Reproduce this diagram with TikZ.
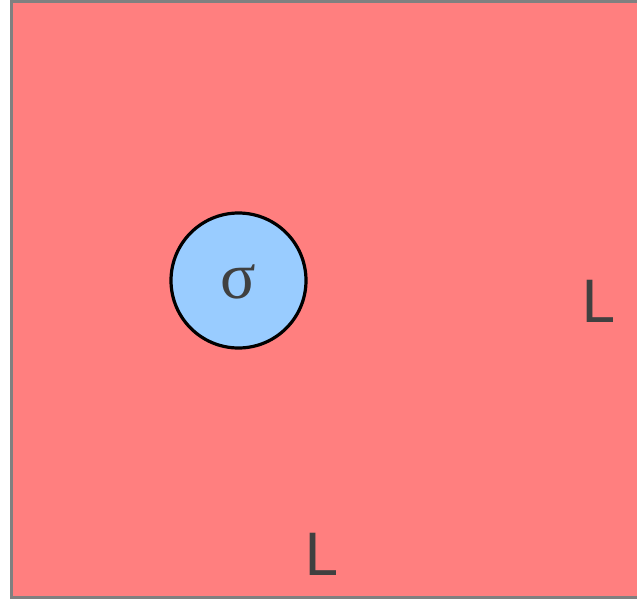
\documentclass[tikz,border=0pt]{standalone}
\usepackage{fontspec}
\setmainfont{DejaVu Sans}
\newfontfamily\sigfont{Liberation Serif}
\definecolor{regionred}{RGB}{255,127,127}
\definecolor{holeblue}{RGB}{153,204,255}
\definecolor{edgegray}{RGB}{128,128,128}
\definecolor{inkgray}{RGB}{64,64,64}
\tikzset{
  region/.style={fill=regionred, draw=edgegray, line width=3.4pt},
  hole/.style={circle, fill=holeblue, draw=black, line width=3.2pt, minimum size=135pt, inner sep=0pt},
  lbl/.style={text=inkgray, inner sep=0pt, anchor=base, font=\fontsize{58}{60}\selectfont},
}
\begin{document}
\begin{tikzpicture}[x=1pt,y=-1pt]
\useasboundingbox (0,0) rectangle (637,599);
\begin{scope}
\clip (0,0) rectangle (637,599);
\draw[region] (11.5,1) rectangle (660,598);
\end{scope}
\node[hole] (circ) at (238.5,280.5) {};
\node[text=inkgray, inner sep=0pt, font=\sigfont\fontsize{66}{68}\selectfont] (sig) at (238,282) {σ};
\node[lbl] (l1) at (598,322) {L};
\node[lbl] (l2) at (321,575) {L};
\end{tikzpicture}
\end{document}
